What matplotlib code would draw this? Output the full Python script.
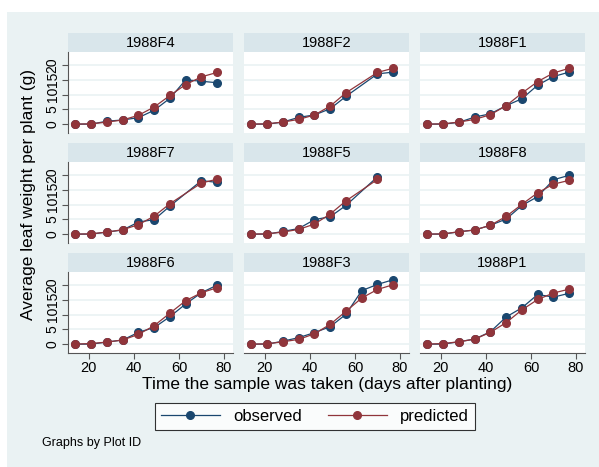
import numpy as np
import matplotlib
matplotlib.use("Agg")
import matplotlib.pyplot as plt
from matplotlib.lines import Line2D
from matplotlib.patches import Rectangle

plt.rcParams['font.family'] = ['Liberation Sans', 'DejaVu Sans']

# sampling days
days = [14, 21, 28, 35, 42, 49, 56, 63, 70, 77]

# panel order as shown (row by row)
plots = ['1988F4', '1988F2', '1988F1',
         '1988F7', '1988F5', '1988F8',
         '1988F6', '1988F3', '1988P1']

# None = not sampled
observed = {
    '1988F4': [0, 0, 1.0, 1.4, 2.2, 4.7, 8.75, 15.0, 14.5, 14.0],
    '1988F2': [0, 0, 0.7, 2.3, 3.1, 5.2, 9.4, None, 17.0, 17.6],
    '1988F1': [0, 0, 0.6, 2.4, 3.5, 6.25, 8.6, 13.2, 16.1, 17.6],
    '1988F7': [0, 0, 0.7, 1.4, 4.1, 4.9, 9.5, None, 18.1, 17.5],
    '1988F5': [0, 0, 0.9, 1.9, 4.9, 5.9, 9.7, None, 19.4, None],
    '1988F8': [0, 0, 0.8, 1.4, 3.0, 5.1, 9.7, 12.7, 18.4, 19.9],
    '1988F6': [0, 0, 0.7, 1.4, 4.0, 5.6, 9.3, 13.6, 17.4, 20.0],
    '1988F3': [0, 0, 1.0, 2.2, 3.9, 5.9, 10.1, 18.1, 20.2, 21.8],
    '1988P1': [0, 0, 0.8, 1.7, 4.2, 9.2, 12.3, 16.8, 15.9, 17.2],
}
predicted = {
    '1988F4': [0, 0.1, 0.7, 1.4, 3.0, 5.8, 9.7, 13.4, 16.0, 17.5],
    '1988F2': [0, 0.1, 0.7, 1.6, 3.1, 6.1, 10.6, None, 17.5, 18.9],
    '1988F1': [0, 0.1, 0.7, 1.6, 3.2, 6.25, 10.5, 14.4, 17.3, 18.9],
    '1988F7': [0, 0.1, 0.7, 1.5, 3.2, 6.1, 10.3, None, 17.3, 18.6],
    '1988F5': [0, 0.1, 0.7, 1.6, 3.4, 6.8, 11.25, None, 18.5, None],
    '1988F8': [0, 0.1, 0.8, 1.4, 3.0, 6.0, 10.1, 14.0, 16.9, 18.2],
    '1988F6': [0, 0.2, 0.7, 1.4, 3.3, 6.25, 10.5, 14.7, 17.4, 19.1],
    '1988F3': [0, 0.1, 0.8, 1.6, 3.5, 6.7, 11.1, 15.6, 18.5, 20.1],
    '1988P1': [0, 0.2, 0.8, 1.7, 4.0, 7.3, 11.6, 15.1, 17.3, 18.6],
}
yticks = [0, 5, 10, 15, 20]
xticks = [20, 40, 60, 80]

bg = '#eaf2f3'
strip_col = '#d9e6eb'
c_obs = '#1a476f'
c_pred = '#90353b'

W, H = 599, 467
fig = plt.figure(figsize=(W / 100, H / 100), dpi=100)
fig.patch.set_facecolor('white')
fig.patches.append(Rectangle((7 / W, 0), 1, 1 - 12 / H, transform=fig.transFigure,
                             facecolor=bg, edgecolor='none', zorder=-10))


def px_axes(x, y, w, h):
    return fig.add_axes([x / W, 1 - (y + h) / H, w / W, h / H])


col_x = [68, 244, 420]
row_y = [33, 143, 253]
pw, sh, ph = 165, 19, 81


def clean(xs, ys):
    pts = [(a, b) for a, b in zip(xs, ys) if b is not None]
    return [p[0] for p in pts], [p[1] for p in pts]


for i, name in enumerate(plots):
    r, c = divmod(i, 3)
    # strip
    st = px_axes(col_x[c], row_y[r], pw, sh)
    st.set_facecolor(strip_col)
    st.set_xticks([]); st.set_yticks([])
    for s in st.spines.values():
        s.set_visible(False)
    st.text(0.5, 0.48, name, ha='center', va='center', fontsize=10.5, transform=st.transAxes)

    ax = px_axes(col_x[c], row_y[r] + sh, pw, ph)
    ax.set_facecolor('white')
    ax.set_xlim(10.7, 84)
    ax.set_ylim(-3, 24.4)
    for y in yticks:
        ax.axhline(y, color=bg, lw=1.2, zorder=0)
    for s in ax.spines.values():
        s.set_visible(False)

    xo, yo = clean(days, observed[name])
    xp, yp = clean(days, predicted[name])
    ax.plot(xo, yo, '-o', color=c_obs, lw=0.9, ms=5.5, zorder=3)
    ax.plot(xp, yp, '-o', color=c_pred, lw=0.9, ms=5.5, zorder=4)

    if c == 0:
        ax.spines['left'].set_visible(True)
        ax.spines['left'].set_color('#555555')
        ax.set_yticks(yticks)
        ax.set_yticklabels([str(v) for v in yticks], rotation=90, va='center', fontsize=10)
        ax.tick_params(axis='y', length=4, color='#555555', pad=2)
    else:
        ax.set_yticks([])
    if r == 2:
        ax.spines['bottom'].set_visible(True)
        ax.spines['bottom'].set_color('#555555')
        ax.set_xticks(xticks)
        ax.tick_params(axis='x', length=4, color='#555555', labelsize=10.5, pad=2)
    else:
        ax.set_xticks([])

fig.text(29 / W, 1 - 195 / H, 'Average leaf weight per plant (g)', rotation=90,
         ha='center', va='center', fontsize=12.5)
fig.text(327 / W, 1 - 384 / H, 'Time the sample was taken (days after planting)',
         ha='center', va='center', fontsize=12.5)

handles = [Line2D([], [], color=c_obs, marker='o', lw=0.9, ms=5.5),
           Line2D([], [], color=c_pred, marker='o', lw=0.9, ms=5.5)]
leg = fig.legend(handles, ['observed', 'predicted'], loc='center',
                 bbox_to_anchor=(315 / W, 1 - 416.5 / H), ncol=2, fontsize=12,
                 frameon=True, fancybox=False, handlelength=3.5, columnspacing=1.6,
                 handletextpad=0.8, borderpad=0.35)
leg.get_frame().set_edgecolor('black')
leg.get_frame().set_linewidth(0.8)
leg.get_frame().set_facecolor('white')

fig.text(42 / W, 1 - 443 / H, 'Graphs by Plot ID', ha='left', va='center', fontsize=9)

fig.savefig('out.png', dpi=100)
